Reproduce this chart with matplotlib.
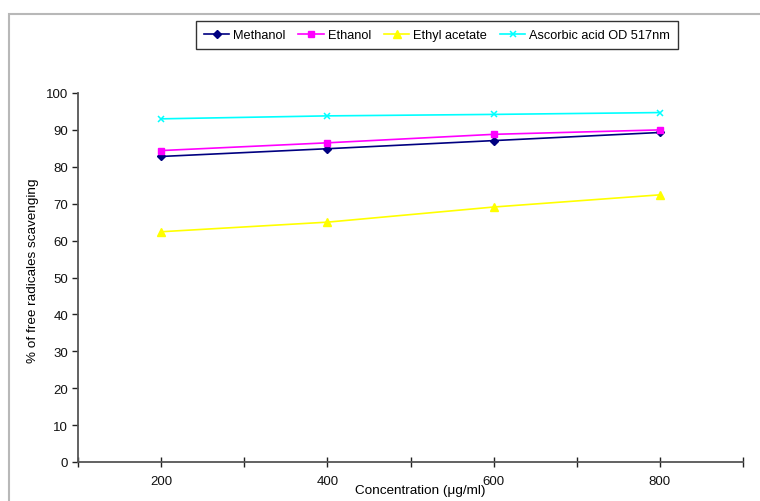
import matplotlib
matplotlib.use("Agg")
import matplotlib.pyplot as plt
from matplotlib.patches import Rectangle

plt.rcParams['font.family'] = ['Liberation Sans', 'DejaVu Sans']

concentration = [200, 400, 600, 800]
methanol = [82.8, 84.9, 87.1, 89.3]
ethanol = [84.4, 86.5, 88.8, 90.0]
ethyl_acetate = [62.4, 65.0, 69.1, 72.4]
ascorbic_acid = [93.0, 93.8, 94.2, 94.7]

series_names = ["Methanol", "Ethanol", "Ethyl acetate", "Ascorbic acid OD 517nm"]
x_ticks = [100, 200, 300, 400, 500, 600, 700, 800, 900]
x_tick_labels = ["", "200", "", "400", "", "600", "", "800", ""]
y_ticks = [0, 10, 20, 30, 40, 50, 60, 70, 80, 90, 100]

W, H = 760, 502
fig = plt.figure(figsize=(W / 100, H / 100), dpi=100)
fig.patch.set_facecolor("white")

# light grey chart-area frame
fig.patches.append(Rectangle((9 / W, -0.1), 1.2, 1 - 15 / H + 0.1,
                             transform=fig.transFigure, fill=False,
                             edgecolor="#b8b8b8", linewidth=1.5))

ax = fig.add_axes([78 / W, 1 - 463 / H, (743 - 78) / W, (463 - 94) / H])

styles = [
    dict(color="#000080", marker="D", markersize=4),
    dict(color="#FF00FF", marker="s", markersize=5),
    dict(color="#FFFF00", marker="^", markersize=5.5),
    dict(color="#00FFFF", marker="x", markersize=5, markeredgewidth=1.1),
]
for vals, name, st in zip([methanol, ethanol, ethyl_acetate, ascorbic_acid],
                          series_names, styles):
    ax.plot(concentration, vals, linewidth=1.2, label=name, **st)

ax.set_xlim(100, 900)
ax.set_ylim(0, 100)
ax.set_xticks(x_ticks)
ax.set_xticklabels(x_tick_labels)
ax.set_yticks(y_ticks)

axis_col = "#555555"
for side in ("top", "right"):
    ax.spines[side].set_visible(False)
for side in ("left", "bottom"):
    ax.spines[side].set_color(axis_col)
    ax.spines[side].set_linewidth(1.3)

ax.tick_params(axis="x", direction="inout", length=7, width=1, color="#222222",
               labelsize=9.5, pad=6, labelcolor="#111111")
ax.tick_params(axis="y", direction="out", length=4, width=1, color="#222222",
               labelsize=9.5, pad=3, labelcolor="#111111")

ax.set_xlabel("Concentration (μg/ml)", fontsize=9.7)
ax.xaxis.set_label_coords(0.515, -28 / 369)
ax.xaxis.label.set_verticalalignment("center")
ax.set_ylabel("% of free radicales scavenging", fontsize=9.7)
ax.yaxis.set_label_coords(-45 / 665, 0.52)
ax.yaxis.label.set_verticalalignment("center")

leg = fig.legend(loc="center", bbox_to_anchor=(437 / W, 1 - 36 / H), ncol=4,
                 fontsize=9.2, frameon=True, fancybox=False, handlelength=2.0,
                 handletextpad=0.3, columnspacing=1.0, borderpad=0.6)
leg.get_frame().set_edgecolor("black")
leg.get_frame().set_linewidth(1.0)

fig.savefig("out.png", dpi=100)
